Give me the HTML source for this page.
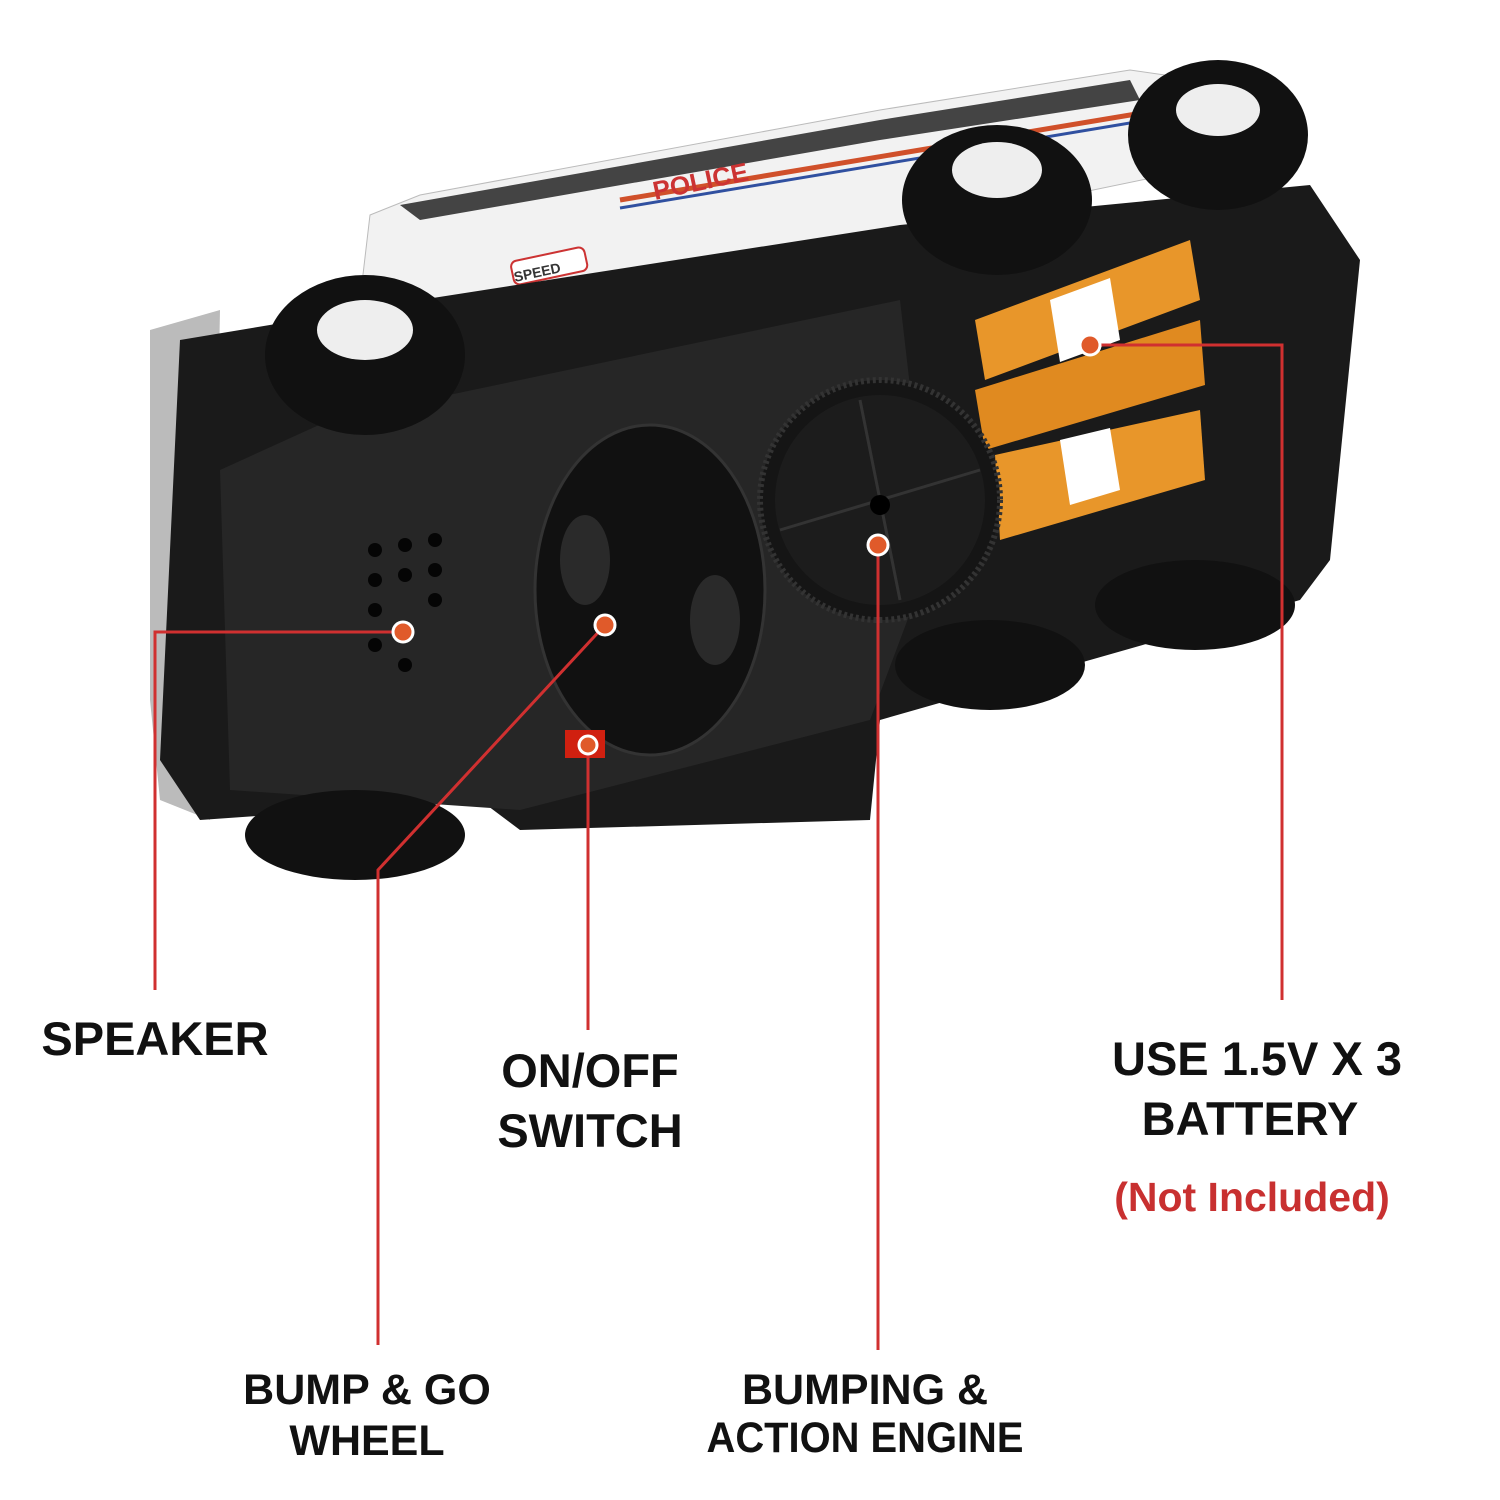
<!DOCTYPE html>
<html><head><meta charset="utf-8"><style>
html,body{margin:0;padding:0;background:#fff;}
svg{display:block}
text{font-family:"Liberation Sans",sans-serif;font-weight:bold;}
</style></head><body>
<svg width="1500" height="1500" viewBox="0 0 1500 1500" xmlns="http://www.w3.org/2000/svg">
<rect width="1500" height="1500" fill="#fff"/>
<polygon points="370,215 420,195 880,110 1130,70 1200,80 1190,170 900,230 600,290 420,320 360,300" fill="#f2f2f2" stroke="#bbb"/>
<polygon points="400,205 880,120 1130,80 1140,100 880,140 420,220" fill="#444"/>
<line x1="620" y1="200" x2="1160" y2="110" stroke="#d0502a" stroke-width="5"/>
<line x1="620" y1="208" x2="1160" y2="118" stroke="#3050a0" stroke-width="3"/>
<text x="655" y="200" font-size="26" fill="#c33" transform="rotate(-12 655 200)">POLICE</text>
<rect x="510" y="262" width="75" height="24" rx="6" fill="#fff" stroke="#c33" stroke-width="2" transform="rotate(-12 510 262)"/>
<text x="515" y="282" font-size="14" fill="#333" transform="rotate(-12 515 282)">SPEED</text>
<polygon points="150,330 220,310 210,820 160,800 150,700" fill="#bbb"/>
<polygon points="180,340 420,300 900,225 1310,185 1360,260 1330,560 1300,600 880,720 870,820 520,830 480,800 200,820 160,760" fill="#1a1a1a"/>
<polygon points="330,420 900,300 930,560 870,720 520,810 230,790 220,470" fill="#262626"/>
<g fill="#050505">
<circle cx="375" cy="550" r="7"/><circle cx="405" cy="545" r="7"/><circle cx="435" cy="540" r="7"/>
<circle cx="375" cy="580" r="7"/><circle cx="405" cy="575" r="7"/><circle cx="435" cy="570" r="7"/>
<circle cx="375" cy="610" r="7"/><circle cx="435" cy="600" r="7"/>
<circle cx="375" cy="645" r="7"/><circle cx="405" cy="665" r="7"/>
</g>
<ellipse cx="650" cy="590" rx="115" ry="165" fill="#111" stroke="#333" stroke-width="3"/>
<ellipse cx="585" cy="560" rx="25" ry="45" fill="#2a2a2a"/>
<ellipse cx="715" cy="620" rx="25" ry="45" fill="#2a2a2a"/>
<rect x="565" y="730" width="40" height="28" fill="#d02010"/>
<g>
<polygon points="975,320 1190,240 1200,300 985,380" fill="#e8962a"/>
<polygon points="975,390 1200,320 1205,385 985,450" fill="#e08a20"/>
<polygon points="995,455 1200,410 1205,480 1000,540" fill="#e8962a"/>
<polygon points="1050,300 1110,278 1120,340 1060,362" fill="#fff"/>
<polygon points="1060,440 1110,428 1120,490 1070,505" fill="#fff"/>
</g>
<circle cx="880" cy="500" r="120" fill="#151515" stroke="#333" stroke-width="6" stroke-dasharray="3 3"/>
<circle cx="880" cy="500" r="105" fill="#1c1c1c"/>
<line x1="780" y1="530" x2="980" y2="470" stroke="#333" stroke-width="3"/>
<line x1="860" y1="400" x2="900" y2="600" stroke="#333" stroke-width="3"/>
<circle cx="880" cy="505" r="10" fill="#000"/>
<g>
<ellipse cx="365" cy="355" rx="100" ry="80" fill="#111"/><ellipse cx="365" cy="330" rx="48" ry="30" fill="#eee"/>
<ellipse cx="997" cy="200" rx="95" ry="75" fill="#111"/><ellipse cx="997" cy="170" rx="45" ry="28" fill="#eee"/>
<ellipse cx="1218" cy="135" rx="90" ry="75" fill="#111"/><ellipse cx="1218" cy="110" rx="42" ry="26" fill="#eee"/>
<ellipse cx="355" cy="835" rx="110" ry="45" fill="#111"/>
<ellipse cx="990" cy="665" rx="95" ry="45" fill="#111"/>
<ellipse cx="1195" cy="605" rx="100" ry="45" fill="#111"/>
</g>
<g stroke="#d03030" stroke-width="3" fill="none">
<polyline points="403,632 155,632 155,990"/>
<polyline points="605,625 378,870 378,1345"/>
<polyline points="588,745 588,1030"/>
<polyline points="878,545 878,1350"/>
<polyline points="1090,345 1282,345 1282,1000"/>
</g>
<g fill="#e05a2a" stroke="#fff" stroke-width="3">
<circle cx="403" cy="632" r="10"/><circle cx="605" cy="625" r="10"/><circle cx="588" cy="745" r="9"/>
<circle cx="878" cy="545" r="10"/><circle cx="1090" cy="345" r="10"/>
</g>
<g fill="#111" font-size="47" text-anchor="middle">
<text x="155" y="1055">SPEAKER</text>
<text x="590" y="1087">ON/OFF</text>
<text x="590" y="1147">SWITCH</text>
<text x="1257" y="1075">USE 1.5V X 3</text>
<text x="1250" y="1135">BATTERY</text>
</g>
<g fill="#111" font-size="43" text-anchor="middle">
<text x="367" y="1404">BUMP &amp; GO</text>
<text x="367" y="1455">WHEEL</text>
<text x="865" y="1404">BUMPING &amp;</text>
<text x="865" y="1452" textLength="317" lengthAdjust="spacingAndGlyphs">ACTION ENGINE</text>
</g>
<text x="1252" y="1211" font-size="41" fill="#c83030" text-anchor="middle">(Not Included)</text>
</svg>
</body></html>
